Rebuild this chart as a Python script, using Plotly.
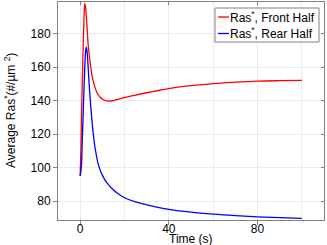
import plotly.graph_objects as go

# Data
t_front = [0, 0.3, 0.7, 1.2, 1.7, 2.1, 2.5, 3.0, 3.7, 4.5, 5.2, 6.0, 6.7, 7.5, 9.0, 10.5,
           12.7, 15, 20, 25, 30, 36, 40, 50, 60, 70, 80, 90, 100]
ras_front = [95, 110, 135, 164, 188, 198, 195, 186, 172, 163, 156, 151, 148, 145, 142, 140.5,
             139.7, 140, 141.8, 143.3, 144.7, 146.2, 147.2, 148.9, 150.2, 151, 151.6, 151.9, 152.1]

t_rear = [0, 0.5, 1.0, 1.5, 2.0, 2.5, 2.8, 3.2, 3.6, 4.0, 5.0, 6.0, 6.7, 8.0, 9.0, 10, 11.2,
          12, 14, 17, 20, 25, 30, 34, 40, 50, 60, 70, 80, 90, 100]
ras_rear = [95, 100, 118, 138, 157, 170, 172, 168, 160, 151, 133, 119, 112, 103, 98.5, 95.5, 92.5,
            91, 88, 84.5, 82, 79.5, 77.8, 76.6, 75.1, 73.4, 72.2, 71.3, 70.6, 70.1, 69.7]

x_ticks = [0, 40, 80]
y_ticks = [80, 100, 120, 140, 160, 180]
legend_names = ["Ras<sup>*</sup>, Front Half", "Ras<sup>*</sup>, Rear Half"]
colors = ["#ff0000", "#0000ff"]

FONT = "Liberation Sans, Arial, sans-serif"
AX = "#808080"
GRID = "#ebebeb"
XR = [-10, 110]
YR = [68.7, 198.9]

fig = go.Figure()
fig.add_trace(go.Scatter(x=t_front, y=ras_front, mode="lines", line=dict(color=colors[0], width=1.3),
                         line_shape="spline", showlegend=False))
fig.add_trace(go.Scatter(x=t_rear, y=ras_rear, mode="lines", line=dict(color=colors[1], width=1.3),
                         line_shape="spline", showlegend=False))
# empty trace for mirrored inward ticks
fig.add_trace(go.Scatter(x=[None], y=[None], xaxis="x2", yaxis="y2", showlegend=False))

L, R, T, B = 58, 3, 2, 25
W, H = 327, 245
pw, ph = W - L - R, H - T - B

fig.update_layout(
    width=W, height=H,
    margin=dict(l=L, r=R, t=T, b=B, pad=0),
    paper_bgcolor="white", plot_bgcolor="white",
    font=dict(family=FONT, size=12, color="black"),
    xaxis=dict(range=XR, tickvals=x_ticks, ticks="outside", ticklen=4, tickcolor=AX,
               showline=True, linecolor=AX, linewidth=1, showgrid=True, gridcolor=GRID,
               zeroline=False, minor=dict(dtick=20, tick0=0, showgrid=True, gridcolor=GRID, ticks=""),
               tickfont=dict(size=12), ticklabelstandoff=-6),
    yaxis=dict(range=YR, tickvals=y_ticks, ticks="outside", ticklen=4, tickcolor=AX,
               showline=True, linecolor=AX, linewidth=1, showgrid=True, gridcolor=GRID,
               zeroline=False, tickfont=dict(size=12)),
    xaxis2=dict(range=XR, tickvals=x_ticks, ticks="inside", ticklen=3, tickcolor=AX,
                overlaying="x", side="top", showline=True, linecolor=AX, linewidth=1,
                showgrid=False, zeroline=False, showticklabels=False),
    yaxis2=dict(range=YR, tickvals=y_ticks, ticks="inside", ticklen=3, tickcolor=AX,
                overlaying="y", side="right", showline=True, linecolor=AX, linewidth=1,
                showgrid=False, zeroline=False, showticklabels=False),
)

def px_x(p):
    return (p - L) / pw

def px_y(p):
    return (H - B - p) / ph

# axis titles
fig.add_annotation(text="Time (s)", xref="paper", yref="paper", x=px_x(191), y=px_y(239),
                   xanchor="center", yanchor="middle", showarrow=False, font=dict(size=12))
fig.add_annotation(text="Average Ras<sup>*</sup>(#/µm <sup>2</sup>)", xref="paper", yref="paper",
                   x=px_x(10), y=px_y(111), xanchor="center", yanchor="middle", textangle=-90,
                   showarrow=False, font=dict(size=12))

# custom legend
fig.add_shape(type="rect", xref="paper", yref="paper", x0=px_x(215), x1=px_x(319),
              y0=px_y(42), y1=px_y(8), line=dict(color="#808080", width=1), fillcolor="white",
              layer="above")
for i, (name, col) in enumerate(zip(legend_names, colors)):
    yy = 17 + i * 16.5
    fig.add_shape(type="line", xref="paper", yref="paper", x0=px_x(218), x1=px_x(229),
                  y0=px_y(yy), y1=px_y(yy), line=dict(color=col, width=1.3), layer="above")
    fig.add_annotation(text=name, xref="paper", yref="paper", x=px_x(229), y=px_y(yy),
                       xanchor="left", yanchor="middle", showarrow=False, font=dict(size=12),
                       borderpad=0)

fig.write_html("out.html", config={"displayModeBar": False},
               post_script="document.body.style.margin='0';document.body.style.overflow='hidden';")
